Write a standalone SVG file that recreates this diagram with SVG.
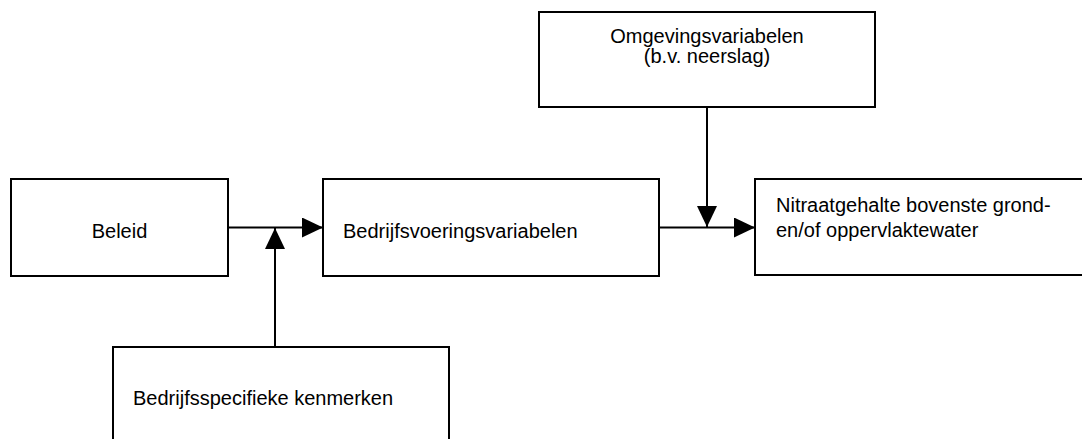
<svg xmlns="http://www.w3.org/2000/svg" width="1082" height="439" viewBox="0 0 1082 439">
  <style>
    .box { fill: #ffffff; stroke: #000000; stroke-width: 2; }
    .lbl { font-family: "Liberation Sans", Arial, sans-serif; font-size: 20px; fill: #000000; }
    .conn { stroke: #000000; stroke-width: 2; fill: none; }
  </style>
  <defs>
    <marker id="arrow" markerUnits="userSpaceOnUse" markerWidth="22" markerHeight="22" refX="21" refY="10" orient="auto" viewBox="0 0 22 22">
      <path d="M0,0 L21,10 L0,20 Z" fill="#000000"/>
    </marker>
  </defs>
  <rect width="1082" height="439" fill="#ffffff"/>

  <g id="beleid">
    <rect class="box" x="11" y="179" width="217" height="97"/>
    <text class="lbl" x="119.5" y="238" text-anchor="middle">Beleid</text>
  </g>

  <g id="bedrijfsvoering">
    <rect class="box" x="323" y="179" width="336" height="97"/>
    <text class="lbl" x="343" y="238">Bedrijfsvoeringsvariabelen</text>
  </g>

  <g id="nitraat">
    <rect class="box" x="755" y="179" width="340" height="96"/>
    <text class="lbl" x="776" y="212">Nitraatgehalte bovenste grond-</text>
    <text class="lbl" x="776" y="237">en/of oppervlaktewater</text>
  </g>

  <g id="omgeving">
    <rect class="box" x="539" y="12" width="336" height="95"/>
    <text class="lbl" x="707" y="43" text-anchor="middle">Omgevingsvariabelen</text>
    <text class="lbl" x="707" y="63" text-anchor="middle">(b.v. neerslag)</text>
  </g>

  <g id="bedrijfsspecifiek">
    <rect class="box" x="113" y="347" width="336" height="110"/>
    <text class="lbl" x="133" y="405">Bedrijfsspecifieke kenmerken</text>
  </g>

  <g id="connectors">
    <line class="conn" x1="228" y1="227.5" x2="323" y2="227.5" marker-end="url(#arrow)"/>
    <line class="conn" x1="275" y1="347" x2="275" y2="228" marker-end="url(#arrow)"/>
    <line class="conn" x1="659" y1="227.5" x2="755" y2="227.5" marker-end="url(#arrow)"/>
    <line class="conn" x1="707" y1="107" x2="707" y2="227" marker-end="url(#arrow)"/>
  </g>
</svg>
